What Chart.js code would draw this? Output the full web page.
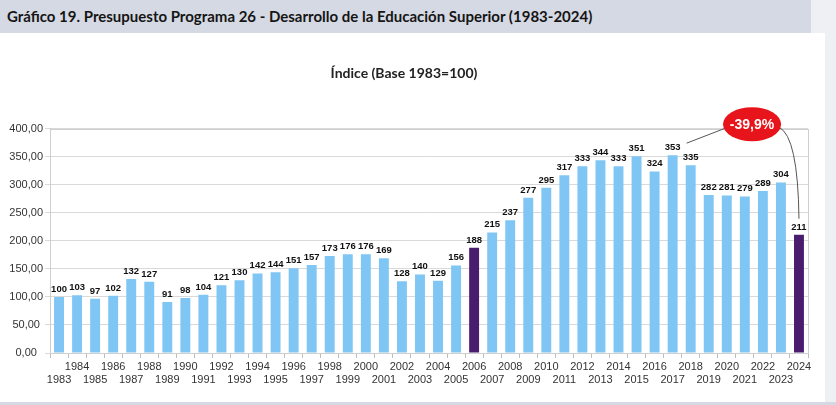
<!DOCTYPE html>
<html>
  <head>
    <meta charset="utf-8">
    <script src="https://cdn.jsdelivr.net/npm/chart.js"></script>
  </head>
  <style>
    body {
      margin: 0;
      width: 836px;
      height: 405px;
      overflow: hidden;
      background-color: #eef0f3;
      position: relative;
    }
    #header {
      position: absolute;
      left: 0;
      top: 0;
      width: 811px;
      height: 33px;
      background-color: #d5d9e3;
      font-family: Lato, sans-serif;
      font-weight: bold;
      font-size: 15px;
      color: #151515;
      line-height: 33px;
      padding-left: 7px;
      box-sizing: border-box;
    }
    #container {
      position: absolute;
      left: 0;
      top: 33px;
      width: 825px;
      height: 369px;
      background-color: white;
    }
    #bottom {
      position: absolute;
      left: 0;
      top: 402px;
      width: 836px;
      height: 3px;
      background-color: #d5d9e3;
    }
  </style>
  <body>
    <div id="header">Gráfico 19. Presupuesto Programa 26 - Desarrollo de la Educación Superior (1983-2024)</div>
    <div id="container">
      <canvas id="indexChart"></canvas>
    </div>
    <div id="bottom"></div>
    <script>
      const YEARS = ['1983', '1984', '1985', '1986', '1987', '1988', '1989', '1990', '1991', '1992',
        '1993', '1994', '1995', '1996', '1997', '1998', '1999', '2000', '2001', '2002',
        '2003', '2004', '2005', '2006', '2007', '2008', '2009', '2010', '2011', '2012',
        '2013', '2014', '2015', '2016', '2017', '2018', '2019', '2020', '2021', '2022',
        '2023', '2024'];
      const INDEX_VALUES = [100, 103, 97, 102, 132, 127, 91, 98, 104, 121,
        130, 142, 144, 151, 157, 173, 176, 176, 169, 128,
        140, 129, 156, 188, 215, 237, 277, 295, 317, 333,
        344, 333, 351, 324, 353, 335, 282, 281, 279, 289,
        304, 211];
      const HIGHLIGHT_YEARS = ['2006', '2024'];
      const CALLOUT_TEXT = '-39,9%';
      const CALLOUT_FROM = '2017';
      const CALLOUT_TO = '2024';

      const COLORS = {
        blue: '#80c6f4',
        purple: '#4a1c6e',
        red: '#e8141b',
        grid: '#d9d9d9',
        text: '#333333'
      };

      // value labels, plot frame and the red callout
      const extrasPlugin = {
        id: 'extras',
        afterDatasetsDraw(chart) {
          const ctx = chart.ctx;
          const area = chart.chartArea;
          const x = chart.scales.x;
          const y = chart.scales.y;
          const meta = chart.getDatasetMeta(0);

          ctx.save();
          ctx.strokeStyle = '#cfcfcf';
          ctx.lineWidth = 1;
          ctx.strokeRect(Math.round(area.left) + 0.5, Math.round(area.top) + 0.5,
            Math.round(area.right - area.left), Math.round(area.bottom - area.top));

          ctx.font = 'bold 9.5px "Liberation Sans", Arial, sans-serif';
          ctx.fillStyle = '#111111';
          ctx.textAlign = 'center';
          ctx.textBaseline = 'bottom';
          meta.data.forEach((bar, i) => {
            ctx.fillText(INDEX_VALUES[i], bar.x, bar.y - 3);
          });

          // callout
          const fromIdx = YEARS.indexOf(CALLOUT_FROM);
          const toIdx = YEARS.indexOf(CALLOUT_TO);
          const fromX = x.getPixelForValue(fromIdx) + 14;
          const fromY = y.getPixelForValue(INDEX_VALUES[fromIdx]) - 12;
          const toX = x.getPixelForValue(toIdx);
          const toY = y.getPixelForValue(INDEX_VALUES[toIdx]);
          const cx = x.getPixelForValue(toIdx - 2.6);
          const cy = y.getPixelForValue(408);
          const rx = 29;
          const ry = 17;

          ctx.strokeStyle = '#555555';
          ctx.lineWidth = 1;
          ctx.beginPath();
          ctx.moveTo(fromX, fromY);
          ctx.lineTo(cx - rx + 2, cy + 4);
          ctx.stroke();

          ctx.beginPath();
          ctx.moveTo(cx + rx - 2, cy + 3);
          ctx.quadraticCurveTo(toX - 1, cy + 12, toX, toY - 16);
          ctx.stroke();

          ctx.fillStyle = COLORS.red;
          ctx.beginPath();
          ctx.ellipse(cx, cy, rx, ry, 0, 0, Math.PI * 2);
          ctx.fill();

          ctx.fillStyle = 'white';
          ctx.font = 'bold 14px "Liberation Sans", Arial, sans-serif';
          ctx.textBaseline = 'middle';
          ctx.fillText(CALLOUT_TEXT, cx, cy + 1);
          ctx.restore();
        }
      };

      const drawChart = () => {
        const config = {
          type: 'bar',
          data: {
            labels: YEARS,
            datasets: [{
              data: INDEX_VALUES,
              backgroundColor: YEARS.map(year => HIGHLIGHT_YEARS.includes(year) ? COLORS.purple : COLORS.blue),
              categoryPercentage: 1,
              barPercentage: 0.55
            }]
          },
          options: {
            responsive: true,
            maintainAspectRatio: false,
            devicePixelRatio: 1,
            animation: false,
            layout: {
              padding: { left: 0, right: 17, top: 0, bottom: 0 }
            },
            scales: {
              x: {
                grid: {
                  drawOnChartArea: false,
                  tickLength: 5,
                  color: '#bdbdbd'
                },
                border: { color: '#bdbdbd' },
                ticks: {
                  autoSkip: false,
                  maxRotation: 0,
                  minRotation: 0,
                  padding: 2,
                  color: COLORS.text,
                  font: { family: '"Liberation Sans", Arial, sans-serif', size: 11 },
                  callback: (value, index) => index % 2 === 0 ? ['', YEARS[index]] : [YEARS[index]]
                },
                afterFit: (scale) => { scale.height = 49; }
              },
              y: {
                min: 0,
                max: 400,
                grid: {
                  color: COLORS.grid,
                  tickLength: 5
                },
                border: { color: '#c8c8c8' },
                ticks: {
                  stepSize: 50,
                  padding: 2,
                  crossAlign: 'center',
                  color: COLORS.text,
                  font: { family: '"Liberation Sans", Arial, sans-serif', size: 11 },
                  callback: (value) => value.toFixed(2).replace('.', ',')
                },
                afterFit: (scale) => { scale.width = 50; }
              }
            },
            plugins: {
              legend: { display: false },
              tooltip: { enabled: false },
              title: {
                display: true,
                text: 'Índice (Base 1983=100)',
                color: '#222222',
                font: { family: 'Lato, sans-serif', size: 14, weight: 'bold' },
                padding: { top: 32, bottom: 47 }
              }
            }
          },
          plugins: [extrasPlugin]
        };

        return new Chart(document.getElementById('indexChart'), config);
      }

      drawChart();
    </script>
  </body>
</html>
